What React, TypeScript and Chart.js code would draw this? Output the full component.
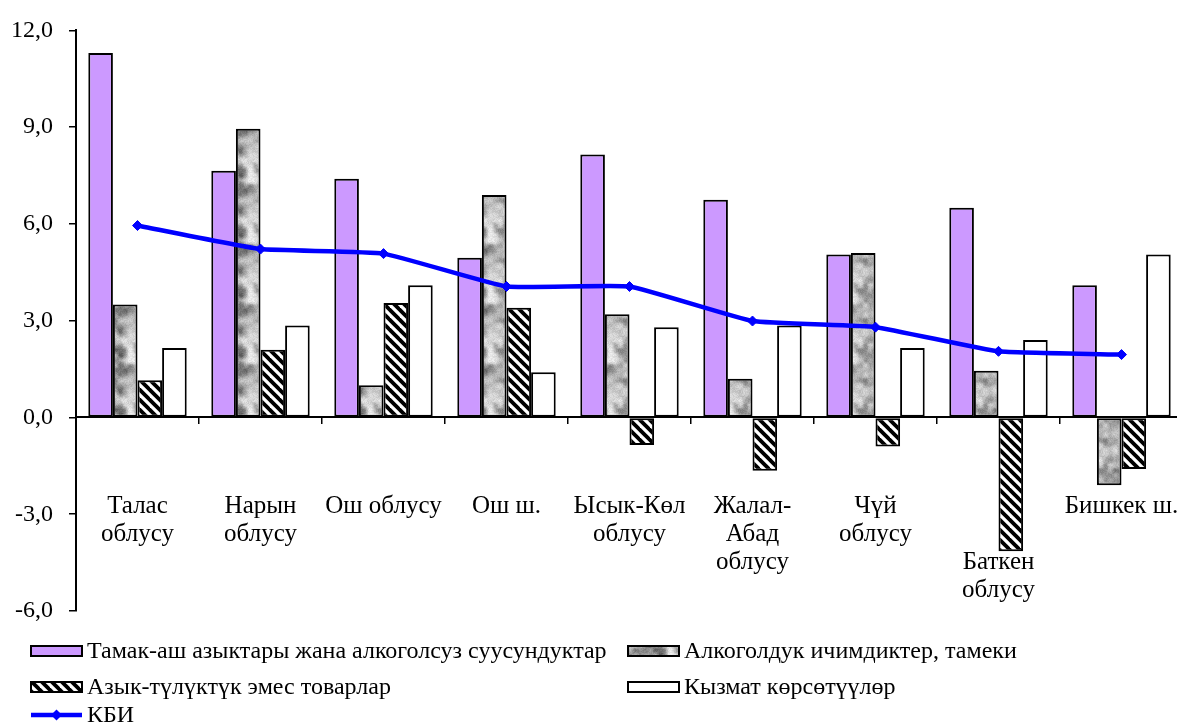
import React, { useEffect, useRef } from "react";
import { Chart, registerables } from "chart.js";

Chart.register(...registerables);

const categories: (string | string[])[] = [
  ["Талас", "облусу"],
  ["Нарын", "облусу"],
  "Ош облусу",
  "Ош ш.",
  ["Ысык-Көл", "облусу"],
  ["Жалал-", "Абад", "облусу"],
  ["Чүй", "облусу"],
  ["", "", "Баткен", "облусу"],
  "Бишкек ш.",
];

const seriesNames = [
  "Тамак-аш азыктары жана алкоголсуз суусундуктар",
  "Алкоголдук ичимдиктер, тамеки",
  "Азык-түлүктүк эмес товарлар",
  "Кызмат көрсөтүүлөр",
  "КБИ",
];

const foodValues = [11.3, 7.65, 7.4, 4.95, 8.15, 6.75, 5.05, 6.5, 4.1];
const alcoholValues = [3.5, 8.95, 1.0, 6.9, 3.2, 1.2, 5.1, 1.45, -2.1];
const nonFoodValues = [1.15, 2.1, 3.55, 3.4, -0.85, -1.65, -0.9, -4.15, -1.6];
const servicesValues = [2.15, 2.85, 4.1, 1.4, 2.8, 2.85, 2.15, 2.4, 5.05];
const cpiValues = [5.95, 5.22, 5.08, 4.06, 4.06, 2.99, 2.8, 2.05, 1.95];

const yMin = -6;
const yMax = 12;
const yStep = 3;

const FONT = "'Liberation Serif', 'Times New Roman', serif";

function seeded(seed: number) {
  let s = seed >>> 0;
  return () => {
    s = (Math.imul(s, 1664525) + 1013904223) >>> 0;
    return s / 4294967296;
  };
}

function makeGranite(): CanvasPattern | string {
  const size = 60;
  const c = document.createElement("canvas");
  c.width = size;
  c.height = size;
  const ctx = c.getContext("2d");
  if (!ctx) return "#bbbbbb";
  const rnd = seeded(4242);
  const layers = [
    { g: 6, w: 0.6 },
    { g: 12, w: 0.4 },
  ];
  const grids = layers.map((l) => {
    const arr: number[] = [];
    for (let i = 0; i < l.g * l.g; i++) arr.push(rnd());
    return arr;
  });
  const sample = (grid: number[], g: number, x: number, y: number) => {
    const cell = size / g;
    const gx = x / cell;
    const gy = y / cell;
    const x0 = Math.floor(gx) % g;
    const y0 = Math.floor(gy) % g;
    const x1 = (x0 + 1) % g;
    const y1 = (y0 + 1) % g;
    const fx = gx - Math.floor(gx);
    const fy = gy - Math.floor(gy);
    const sx = fx * fx * (3 - 2 * fx);
    const sy = fy * fy * (3 - 2 * fy);
    const a = grid[y0 * g + x0] * (1 - sx) + grid[y0 * g + x1] * sx;
    const b = grid[y1 * g + x0] * (1 - sx) + grid[y1 * g + x1] * sx;
    return a * (1 - sy) + b * sy;
  };
  const img = ctx.createImageData(size, size);
  for (let y = 0; y < size; y++) {
    for (let x = 0; x < size; x++) {
      let v = 0;
      layers.forEach((l, i) => {
        v += sample(grids[i], l.g, x, y) * l.w;
      });
      const n = rnd();
      let gray = 235 - Math.pow(v, 1.6) * 170 + (n - 0.5) * 24;
      gray = Math.max(90, Math.min(240, gray));
      const idx = (y * size + x) * 4;
      img.data[idx] = gray;
      img.data[idx + 1] = gray;
      img.data[idx + 2] = gray;
      img.data[idx + 3] = 255;
    }
  }
  ctx.putImageData(img, 0, 0);
  return ctx.createPattern(c, "repeat") || "#bbbbbb";
}

function makeHatch(): CanvasPattern | string {
  const s = 10;
  const c = document.createElement("canvas");
  c.width = s;
  c.height = s;
  const ctx = c.getContext("2d");
  if (!ctx) return "#777";
  ctx.fillStyle = "#fff";
  ctx.fillRect(0, 0, s, s);
  ctx.strokeStyle = "#000";
  ctx.lineWidth = 3.8;
  for (let k = -1; k <= 1; k++) {
    ctx.beginPath();
    ctx.moveTo(k * s - 3, -3);
    ctx.lineTo(k * s + s + 3, s + 3);
    ctx.stroke();
  }
  return ctx.createPattern(c, "repeat") || "#777";
}

export default function App() {
  const ref = useRef<HTMLCanvasElement | null>(null);

  useEffect(() => {
    const canvas = ref.current;
    if (!canvas) return;
    const granite = makeGranite();
    const hatch = makeHatch();
    const purple = "#CC99FF";
    const blue = "#0000FF";

    const legendPlugin = {
      id: "customLegend",
      afterDraw(chart: any) {
        const ctx = chart.ctx as CanvasRenderingContext2D;
        ctx.save();
        ctx.font = `24px ${FONT}`;
        ctx.textBaseline = "middle";
        ctx.textAlign = "left";
        const items = [
          { col: 31, y: 651, fill: purple as any, name: seriesNames[0] },
          { col: 628, y: 651, fill: granite as any, name: seriesNames[1] },
          { col: 31, y: 687, fill: hatch as any, name: seriesNames[2] },
          { col: 628, y: 687, fill: "#ffffff" as any, name: seriesNames[3] },
        ];
        for (const it of items) {
          ctx.fillStyle = it.fill;
          ctx.fillRect(it.col, it.y - 5, 51, 10);
          ctx.lineWidth = 2;
          ctx.strokeStyle = "#000";
          ctx.strokeRect(it.col, it.y - 5, 51, 10);
          ctx.fillStyle = "#000";
          ctx.fillText(it.name, it.col + 56, it.y + 1);
        }
        const ly = 715;
        ctx.strokeStyle = blue;
        ctx.lineWidth = 4.5;
        ctx.beginPath();
        ctx.moveTo(31, ly);
        ctx.lineTo(82, ly);
        ctx.stroke();
        ctx.fillStyle = blue;
        ctx.beginPath();
        ctx.moveTo(56.5, ly - 5.5);
        ctx.lineTo(62, ly);
        ctx.lineTo(56.5, ly + 5.5);
        ctx.lineTo(51, ly);
        ctx.closePath();
        ctx.fill();
        ctx.fillStyle = "#000";
        ctx.fillText(seriesNames[4], 87, ly + 1);
        ctx.restore();
      },
    };

    const barCommon = {
      borderColor: "#000",
      borderWidth: 2,
      borderSkipped: false as const,
      order: 1,
    };

    const chart = new Chart(canvas, {
      type: "bar",
      data: {
        labels: categories,
        datasets: [
          {
            type: "line" as const,
            label: seriesNames[4],
            data: cpiValues,
            borderColor: blue,
            backgroundColor: blue,
            borderWidth: 4.5,
            pointStyle: "rectRot",
            pointRadius: 5,
            pointBackgroundColor: blue,
            pointBorderColor: blue,
            pointBorderWidth: 1,
            tension: 0.12,
            order: 0,
          } as any,
          { label: seriesNames[0], data: foodValues, backgroundColor: purple, ...barCommon },
          { label: seriesNames[1], data: alcoholValues, backgroundColor: granite as any, ...barCommon },
          { label: seriesNames[2], data: nonFoodValues, backgroundColor: hatch as any, ...barCommon },
          { label: seriesNames[3], data: servicesValues, backgroundColor: "#ffffff", ...barCommon },
        ],
      },
      options: {
        responsive: false,
        animation: false,
        devicePixelRatio: 1,
        layout: { padding: { top: 28, bottom: 114, left: 0, right: 7 } },
        plugins: {
          legend: { display: false },
          tooltip: { enabled: false },
        },
        datasets: {
          bar: { barPercentage: 1, categoryPercentage: 0.8 },
        },
        scales: {
          x: {
            position: { y: 0 } as any,
            grid: {
              offset: true,
              drawOnChartArea: false,
              drawTicks: true,
              tickLength: 6,
              color: "#000",
              lineWidth: 1.5,
            },
            border: { display: true, color: "#000", width: 2 },
            ticks: {
              autoSkip: false,
              maxRotation: 0,
              minRotation: 0,
              padding: 69,
              color: "#000",
              font: { family: FONT, size: 25, lineHeight: 1.12 },
            },
            afterFit: (s: any) => {
              s.paddingLeft = 0;
              s.paddingRight = 0;
            },
          },
          y: {
            min: yMin,
            max: yMax,
            ticks: {
              stepSize: yStep,
              padding: 16,
              color: "#000",
              font: { family: FONT, size: 24 },
              callback: (v: any) => Number(v).toFixed(1).replace(".", ","),
            },
            grid: {
              drawOnChartArea: false,
              tickLength: 7,
              color: "#000",
              lineWidth: 1.5,
            },
            border: { display: true, color: "#000", width: 2 },
            afterFit: (s: any) => {
              s.width = 76;
            },
          },
        },
      },
      plugins: [legendPlugin],
    });

    return () => {
      chart.destroy();
    };
  }, []);

  return (
    <div
      style={{
        position: "absolute",
        left: 0,
        top: 0,
        width: 1177,
        height: 725,
        overflow: "hidden",
        background: "#ffffff",
      }}
    >
      <canvas ref={ref} width={1190} height={725} style={{ display: "block" }} />
    </div>
  );
}
